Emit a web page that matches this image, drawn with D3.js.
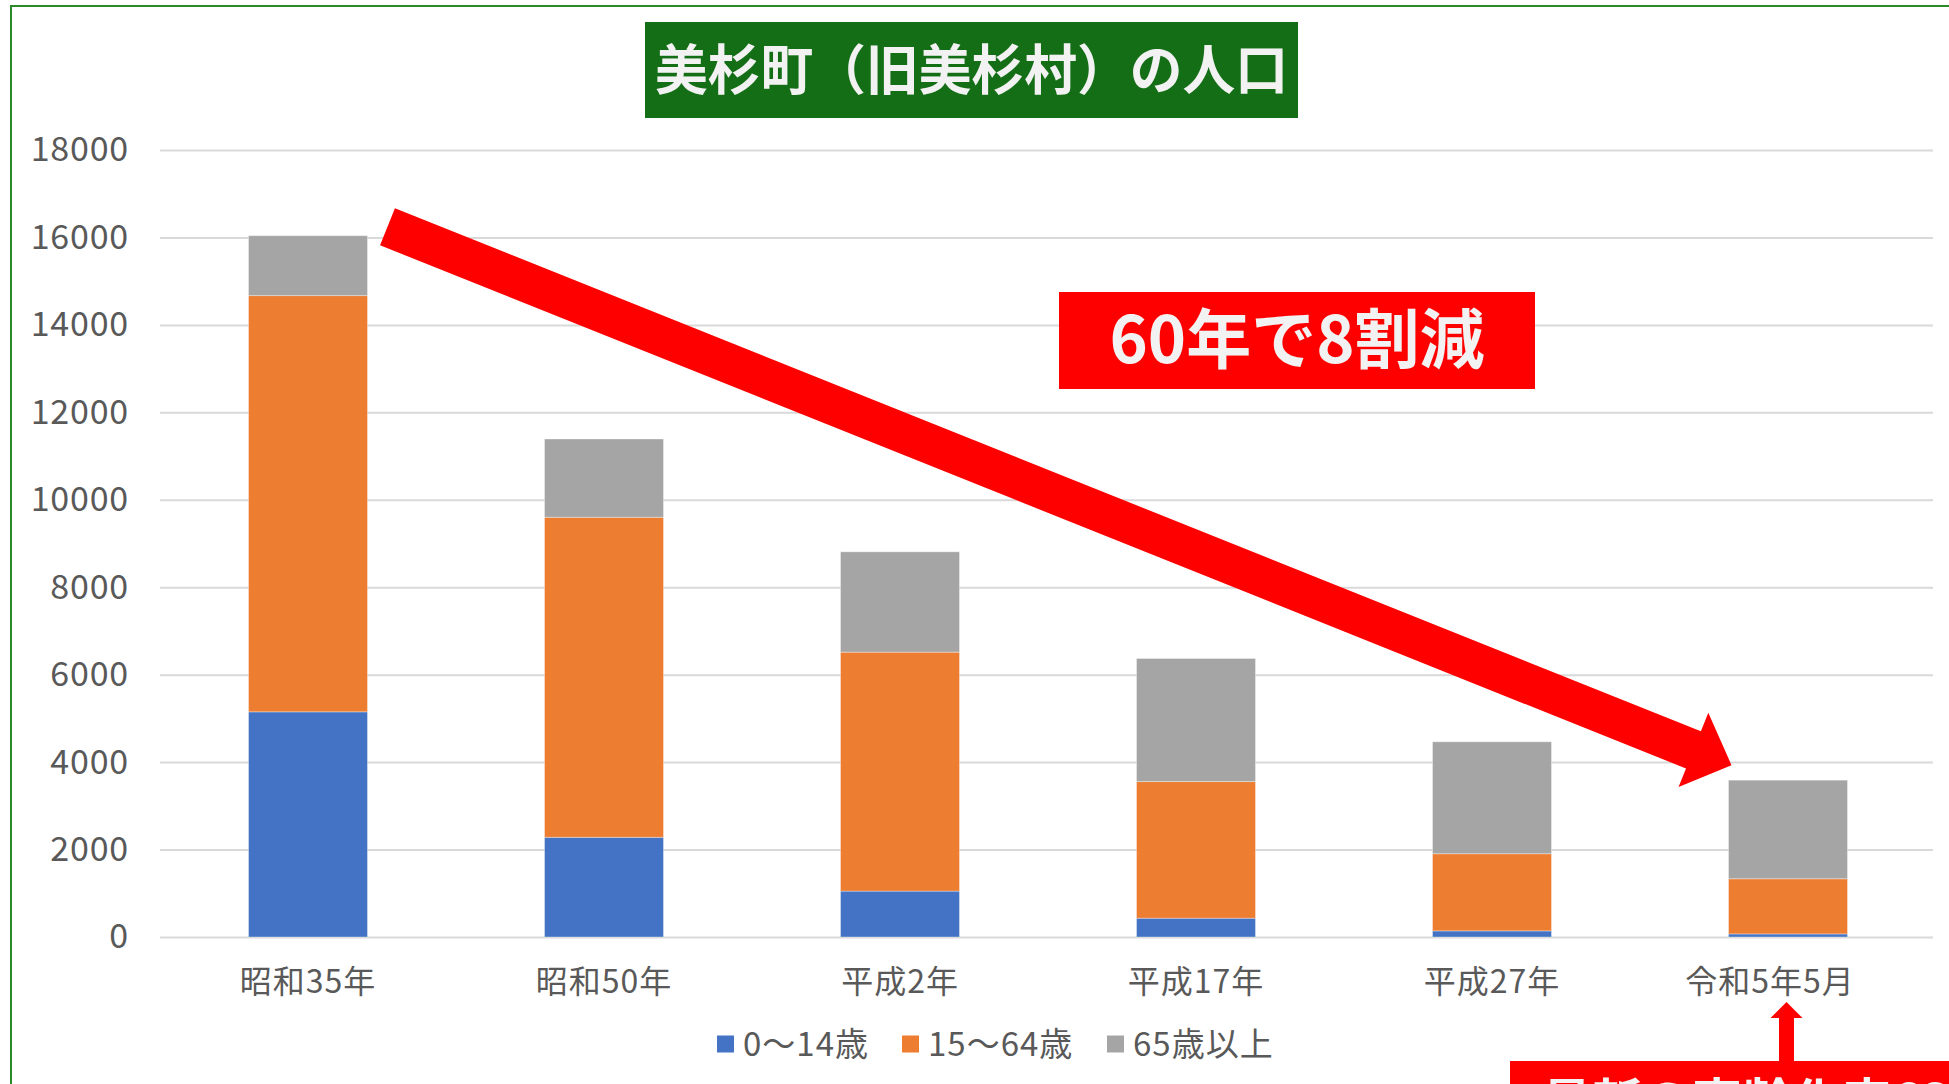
<!DOCTYPE html>
<html>
<head>
<meta charset="utf-8">
<script src="https://cdn.jsdelivr.net/npm/d3@7"></script>
<style>
  html, body { margin: 0; padding: 0; background: #fff; overflow: hidden; }
  text { font-family: "Noto Sans CJK JP", "Noto Sans", sans-serif; }
</style>
</head>
<body>
<div id="chart"></div>
<script>
'use strict';

var categories = ['昭和35年', '昭和50年', '平成2年', '平成17年', '平成27年', '令和5年5月'],
    seriesNames = ['0～14歳', '15～64歳', '65歳以上'],
    young = [5150, 2280, 1050, 430, 140, 70],
    working = [9520, 7320, 5465, 3125, 1765, 1262],
    elderly = [1370, 1790, 2295, 2815, 2560, 2255],
    yTicks = [0, 2000, 4000, 6000, 8000, 10000, 12000, 14000, 16000, 18000],
    colors = ['#4472c4', '#ed7d31', '#a5a5a5'];

var W = 1949, H = 1084,
    plot = { left: 160, right: 1936, top: 150, bottom: 937 };

var svg = d3.select('#chart').append('svg')
  .attr('width', W).attr('height', H)
  .style('display', 'block');

svg.append('rect').attr('width', W).attr('height', H).attr('fill', '#fff');

// green frame of the slide, cut off at right and bottom
svg.append('rect')
  .attr('x', 11).attr('y', 6)
  .attr('width', W + 20).attr('height', H + 20)
  .attr('fill', 'none').attr('stroke', '#2a8a2a').attr('stroke-width', 2);

var x = d3.scaleBand().domain(categories)
  .range([plot.left, plot.right])
  .paddingInner(0.598).paddingOuter(0.299);

var y = d3.scaleLinear().domain([0, 18000]).range([plot.bottom, plot.top]);

// gridlines + y labels
var yAxis = svg.append('g')
  .attr('transform', 'translate(' + plot.left + ',0)')
  .call(d3.axisLeft(y).tickValues(yTicks).tickSize(-(plot.right - plot.left - 3)).tickPadding(31).tickFormat(d3.format('d')));
yAxis.select('.domain').remove();
yAxis.selectAll('.tick line').attr('stroke', '#d9d9d9').attr('stroke-width', 2);
yAxis.selectAll('.tick text')
  .attr('fill', '#595959').style('font-size', '34px').style('letter-spacing', '0.8px');

// stacked bars
var table = categories.map(function (c, i) {
  return { cat: c, young: young[i], working: working[i], elderly: elderly[i] };
});
var stack = d3.stack().keys(['young', 'working', 'elderly'])(table);

svg.append('g').selectAll('g').data(stack).enter().append('g')
  .attr('fill', function (d, i) { return colors[i]; })
  .selectAll('rect').data(function (d) { return d; }).enter().append('rect')
  .attr('x', function (d) { return x(d.data.cat); })
  .attr('width', x.bandwidth())
  .attr('y', function (d) { return y(d[1]); })
  .attr('height', function (d) { return y(d[0]) - y(d[1]); })
  .attr('stroke', 'rgba(255,255,255,0.35)').attr('stroke-width', 1);

// x labels (last one sits a little left of its bar in the original)
var xAxis = svg.append('g')
  .attr('transform', 'translate(0,' + plot.bottom + ')')
  .call(d3.axisBottom(x).tickSize(0).tickPadding(33));
xAxis.select('.domain').remove();
xAxis.selectAll('.tick text')
  .attr('fill', '#595959').style('font-size', '32px').style('letter-spacing', '1px')
  .attr('dx', function (d, i) { return i === categories.length - 1 ? -18 : 0; });

// legend
var legendX = [717, 902, 1107];
var legend = svg.append('g').selectAll('g').data(seriesNames).enter().append('g')
  .attr('transform', function (d, i) { return 'translate(' + legendX[i] + ',1044)'; });
legend.append('rect')
  .attr('x', 0).attr('y', -8.5).attr('width', 17).attr('height', 17)
  .attr('fill', function (d, i) { return colors[i]; });
legend.append('text')
  .attr('x', 26).attr('dy', '0.36em')
  .attr('fill', '#595959').style('font-size', '33px').style('letter-spacing', '1px')
  .text(function (d) { return d; });

// title box
svg.append('rect')
  .attr('x', 645).attr('y', 22).attr('width', 653).attr('height', 96)
  .attr('fill', '#136e16');
svg.append('text')
  .attr('x', 655).attr('y', 71).attr('dy', '0.36em')
  .attr('textLength', 633).attr('lengthAdjust', 'spacingAndGlyphs')
  .attr('fill', '#f2f2f2').style('font-size', '54px').style('font-weight', 'bold')
  .text('美杉町（旧美杉村）の人口');

// big red arrow, from top of first bar to top of last bar
var last = categories.length - 1,
    tail = [x(categories[0]) + x.bandwidth() + 20, y(young[0] + working[0] + elderly[0]) - 9],
    tip = [x(categories[last]) + 3, y(young[last] + working[last] + elderly[last]) - 15],
    dx = tip[0] - tail[0], dy = tip[1] - tail[1],
    len = Math.sqrt(dx * dx + dy * dy),
    ang = Math.atan2(dy, dx) * 180 / Math.PI,
    shaftW = 20, headW = 40, headL = 41;

svg.append('path')
  .attr('transform', 'translate(' + tail[0] + ',' + tail[1] + ') rotate(' + ang + ')')
  .attr('d', d3.line()([
    [0, -shaftW], [len - headL, -shaftW], [len - headL, -headW], [len, 0],
    [len - headL, headW], [len - headL, shaftW], [0, shaftW]
  ]) + 'Z')
  .attr('fill', '#ff0000');

// "60年で8割減" callout
svg.append('rect')
  .attr('x', 1059).attr('y', 292).attr('width', 476).attr('height', 97)
  .attr('fill', '#ff0000');
svg.append('text')
  .attr('x', 1297).attr('y', 340).attr('dy', '0.36em')
  .attr('text-anchor', 'middle')
  .attr('fill', '#f2f2f2').style('font-size', '65px').style('font-weight', 'bold')
  .text('60年で8割減');

// small up arrow under last label + cut-off callout
var upX = x(categories[last]) + x.bandwidth() / 2 - 1.5;
svg.append('path')
  .attr('d', d3.line()([
    [upX - 7.5, 1062], [upX - 7.5, 1018], [upX - 16, 1018], [upX, 1002],
    [upX + 16, 1018], [upX + 7.5, 1018], [upX + 7.5, 1062]
  ]) + 'Z')
  .attr('fill', '#ff0000');
svg.append('rect')
  .attr('x', 1510).attr('y', 1061).attr('width', 460).attr('height', 100)
  .attr('fill', '#ff0000');
svg.append('text')
  .attr('x', 1542).attr('y', 1120)
  .attr('fill', '#f2f2f2').style('font-size', '50px').style('font-weight', 'bold')
  .text('最新の高齢化率63%');
</script>
</body>
</html>
